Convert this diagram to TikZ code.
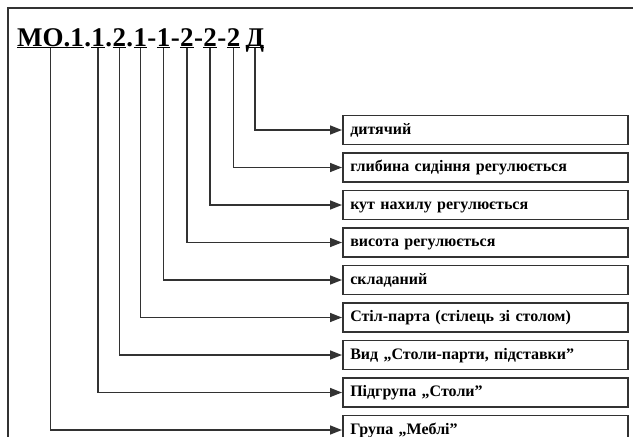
\documentclass[tikz,border=0pt]{standalone}
\usepackage{fontspec}
\setmainfont{Liberation Serif}
\usepackage{tikz}
\usetikzlibrary{arrows,arrows.meta,positioning}
\definecolor{lineGray}{RGB}{50,50,50}
\tikzstyle{arrow} = [line width=1.5pt,-{Triangle[length=12pt,width=9pt]},color=lineGray]
\tikzstyle{code} = [inner sep=0pt,font=\fontsize{27}{30}\selectfont\bfseries]
\tikzstyle{field} = [draw=lineGray,line width=1.5pt,minimum width=285pt,minimum height=29pt,
  text width=270pt,inner xsep=7.5pt,text height=11pt,text depth=3pt,align=left,
  font=\fontsize{16}{18}\selectfont\bfseries]
\newcommand{\ulseg}[1]{\underline{\raisebox{0pt}[\height][0pt]{#1}}}

\begin{document}
\begin{tikzpicture}[x=1pt,y=-1pt]
    \useasboundingbox (0,0) rectangle (633,437);

    % Frame
    \draw[line width=1.5pt,lineGray] (8,437) -- (8,8) -- (633,8);

    % Code
    \node[code,anchor=base west] (mo) at (17,46) {\ulseg{МО.1}};
    \node[code,base right=0pt of mo] (dot1) {.};
    \node[code,base right=0pt of dot1] (sub) {\ulseg{1}};
    \node[code,base right=0pt of sub] (dot2) {.};
    \node[code,base right=0pt of dot2] (kind) {\ulseg{2}};
    \node[code,base right=0pt of kind] (dot3) {.};
    \node[code,base right=0pt of dot3] (desk) {\ulseg{1}};
    \node[code,base right=0pt of desk] (dash1) {-};
    \node[code,base right=0pt of dash1] (fold) {\ulseg{1}};
    \node[code,base right=0pt of fold] (dash2) {-};
    \node[code,base right=0pt of dash2] (height) {\ulseg{2}};
    \node[code,base right=0pt of height] (dash3) {-};
    \node[code,base right=0pt of dash3] (tilt) {\ulseg{2}};
    \node[code,base right=0pt of tilt] (dash4) {-};
    \node[code,base right=0pt of dash4] (depth) {\ulseg{2}};
    \node[code,base right=5pt of depth] (child) {\ulseg{Д}};

    % Fields
    \node[field,anchor=west] (fchild) at (342,130) {дитячий};
    \node[field,below=7pt of fchild] (fdepth) {глибина сидіння регулюється};
    \node[field,below=7pt of fdepth] (ftilt) {кут нахилу регулюється};
    \node[field,below=7pt of ftilt] (fheight) {висота регулюється};
    \node[field,below=7pt of fheight] (ffold) {складаний};
    \node[field,below=7pt of ffold] (fdesk) {Стіл-парта (стілець зі столом)};
    \node[field,below=7pt of fdesk] (fkind) {Вид „Столи-парти, підставки”};
    \node[field,below=7pt of fkind] (fsub) {Підгрупа „Столи”};
    \node[field,below=7pt of fsub] (fmo) {Група „Меблі”};

    % Connectors
    \draw[arrow] (child.south) |- (fchild.west);
    \draw[arrow] (depth.south) |- (fdepth.west);
    \draw[arrow] (tilt.south) |- (ftilt.west);
    \draw[arrow] (height.south) |- (fheight.west);
    \draw[arrow] (fold.south) |- (ffold.west);
    \draw[arrow] (desk.south) |- (fdesk.west);
    \draw[arrow] (kind.south) |- (fkind.west);
    \draw[arrow] (sub.south) |- (fsub.west);
    \draw[arrow] (mo.south) |- (fmo.west);
\end{tikzpicture}
\end{document}
